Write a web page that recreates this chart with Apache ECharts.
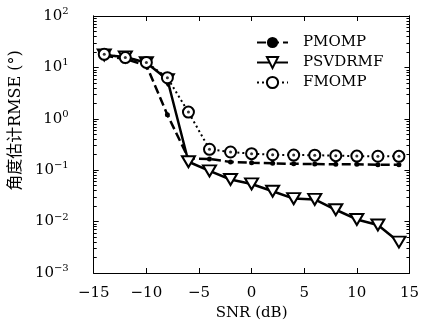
<!DOCTYPE html>
<html>
<head>
<meta charset="utf-8">
<script src="https://cdn.jsdelivr.net/npm/echarts@6/dist/echarts.min.js"></script>
<style>
  html, body { margin: 0; padding: 0; background: #fff; }
  #chart { width: 422px; height: 329px; }
</style>
</head>
<body>
<div id="chart"></div>
<script>
// values
const snr = [-14, -12, -10, -8, -6, -4, -2, 0, 2, 4, 6, 8, 10, 12, 14];
const pmomp = [17, 14.5, 11, 1.2, 0.17, 0.165, 0.145, 0.14, 0.136, 0.133, 0.132, 0.13, 0.13, 0.128, 0.128];
const psvdrmf = [17.5, 16, 12.3, 5.8, 0.146, 0.097, 0.066, 0.054, 0.039, 0.028, 0.027, 0.017, 0.011, 0.0086, 0.004];
const fmomp = [18, 15.5, 12.5, 6.3, 1.35, 0.255, 0.226, 0.21, 0.2, 0.197, 0.196, 0.192, 0.188, 0.187, 0.186];
const xTicks = [-15, -10, -5, 0, 5, 10, 15];
const yMin = 1e-3, yMax = 1e2;

const serif = "'DejaVu Serif', 'Noto Sans CJK SC', serif";

// log minor ticks 2..9 in each decade
const minorTicks = [];
for (let d = -3; d < 2; d++) {
  for (let k = 2; k <= 9; k++) minorTicks.push(k * Math.pow(10, d));
}

const pairs = (ys) => snr.map((x, i) => [x, ys[i]]);

const chart = echarts.init(document.getElementById("chart"), null, { renderer: "canvas" });

const axisLine = { show: true, onZero: false, lineStyle: { color: "#000", width: 1 } };

function yAxisBase(pos, minor, labels) {
  return {
    type: "log",
    logBase: 10,
    min: yMin,
    max: yMax,
    position: pos,
    axisLine: axisLine,
    splitLine: { show: false },
    axisTick: minor
      ? { show: true, inside: true, length: 3, customValues: minorTicks, lineStyle: { color: "#000" } }
      : { show: true, inside: true, length: 5, lineStyle: { color: "#000" } },
    axisLabel: labels
      ? {
          show: true,
          margin: 25,
          formatter: (v) => {
            const e = Math.round(Math.log10(v));
            return "{b|10}{s|" + (e < 0 ? "\u2212" + (-e) : e) + "}";
          },
          rich: {
            b: { fontFamily: serif, fontSize: 15, color: "#000" },
            s: { fontFamily: serif, fontSize: 10, color: "#000", padding: [0, 0, 9, 0] },
          },
        }
      : { show: false },
  };
}

const option = {
  backgroundColor: "#fff",
  animation: false,
  grid: { left: 81, right: 9, top: 16, bottom: 56 },
  legend: {
    data: ["PMOMP", "PSVDRMF", "FMOMP"],
    orient: "vertical",
    left: 256,
    top: 35,
    itemWidth: 31,
    itemHeight: 14,
    itemGap: 5,
    padding: 0,
    textStyle: { fontFamily: serif, fontSize: 15, color: "#000", padding: [0, 0, 0, 10] },
  },
  xAxis: [
    {
      type: "value",
      min: -15,
      max: 15,
      interval: 5,
      position: "bottom",
      name: "SNR (dB)",
      nameLocation: "middle",
      nameGap: 28,
      nameTextStyle: { fontFamily: serif, fontSize: 15, color: "#000" },
      axisLine: axisLine,
      splitLine: { show: false },
      axisTick: { show: true, inside: true, length: 5, lineStyle: { color: "#000" } },
      axisLabel: {
        margin: 13,
        fontFamily: serif,
        fontSize: 15,
        color: "#000",
        customValues: xTicks,
        formatter: (v) => String(v).replace("-", "\u2212"),
      },
    },
    {
      type: "value",
      min: -15,
      max: 15,
      interval: 5,
      position: "top",
      axisLine: axisLine,
      splitLine: { show: false },
      axisTick: { show: true, inside: true, length: 5, lineStyle: { color: "#000" } },
      axisLabel: { show: false },
    },
  ],
  yAxis: [
    Object.assign(yAxisBase("left", false, true), {
      name: "角度估计RMSE (°)",
      nameLocation: "middle",
      nameGap: 58,
      nameTextStyle: { fontFamily: serif, fontSize: 16, color: "#000", padding: [0, 0, 0, 48] },
    }),
    yAxisBase("left", true, false),
    yAxisBase("right", false, false),
    yAxisBase("right", true, false),
  ],
  series: [
    {
      name: "PMOMP",
      type: "line",
      data: pairs(pmomp),
      symbol: "circle",
      symbolSize: 5,
      itemStyle: { color: "#000" },
      lineStyle: { color: "#000", width: 2.5, type: [9, 4] },
      z: 2,
    },
    {
      name: "PSVDRMF",
      type: "line",
      data: pairs(psvdrmf),
      symbol: "path://M0,0L12,0L6,10Z",
      symbolSize: [13, 11],
      itemStyle: { color: "#fff", borderColor: "#000", borderWidth: 2 },
      lineStyle: { color: "#000", width: 2.5, type: "solid" },
      z: 3,
    },
    {
      name: "FMOMP",
      type: "line",
      data: pairs(fmomp),
      symbol: "emptyCircle",
      symbolSize: 11,
      itemStyle: { color: "#000", borderWidth: 2.5 },
      lineStyle: { color: "#000", width: 2, type: [2, 3] },
      z: 4,
    },
    {
      name: "FMOMP-centre",
      type: "scatter",
      data: pairs(fmomp),
      symbol: "circle",
      symbolSize: 3,
      itemStyle: { color: "#000" },
      silent: true,
      z: 5,
    },
  ],
};

chart.setOption(option);
</script>
</body>
</html>
